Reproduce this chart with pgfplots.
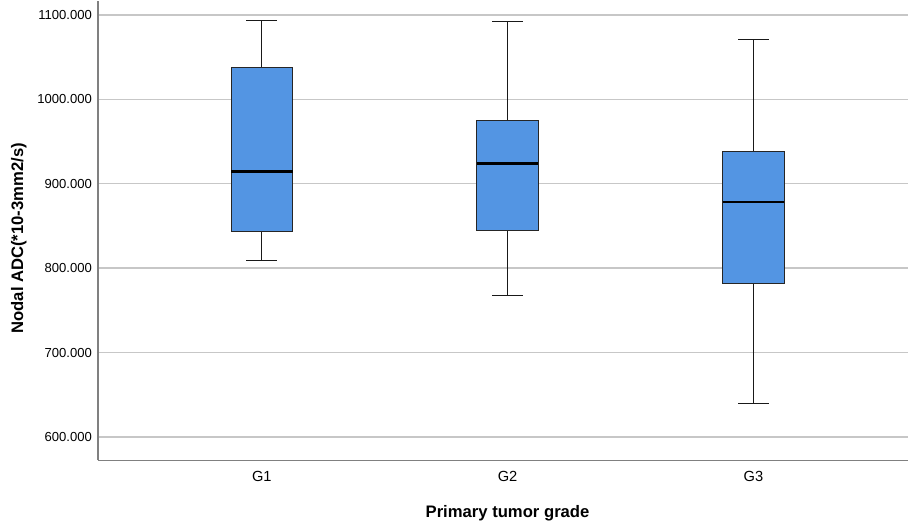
\documentclass[border=0pt]{standalone}
\usepackage{fontspec}
\setmainfont{Liberation Sans}
\usepackage{pgfplots}
\pgfplotsset{compat=1.18}
\definecolor{boxblue}{RGB}{83,149,227}
\begin{document}
\begin{tikzpicture}
\begin{axis}[
  scale only axis, width=608.25pt, height=345pt,
  xmin=0.3333, xmax=3.63, ymin=572.4, ymax=1116.9,
  axis lines*=left,
  axis line style={draw=black!50, line width=0.9pt},
  tick style={draw=none},
  xtick={1,2,3}, xticklabels={G1,G2,G3},
  ytick={600,700,800,900,1000,1100},
  yticklabels={600.000,700.000,800.000,900.000,1000.000,1100.000},
  ymajorgrids, grid style={draw=black!22, line width=1.1pt},
  yticklabel style={font=\fontsize{9.8}{11}\selectfont, xshift=-1pt},
  xticklabel style={font=\fontsize{11}{13}\selectfont, yshift=-5pt},
  xlabel={Primary tumor grade},
  ylabel={Nodal ADC(*10-3mm2/s)},
  xlabel style={font=\bfseries\fontsize{12.5}{14}\selectfont, at={(axis description cs:0.5055,-0.115)}, anchor=center},
  ylabel style={font=\bfseries\fontsize{12.5}{14}\selectfont, at={(axis description cs:-0.0975,0.483)}, anchor=center},
  boxstyle/.style={fill=boxblue, draw=black!85, line width=0.75pt},
  whisk/.style={draw=black!90, line width=1pt},
  med/.style={draw=black, line width=2.2pt},
]
% G1: lower whisker 809.2, Q1 843.6, median 914.6, Q3 1037.6, upper whisker 1093.6
\addplot[whisk] coordinates {(1,1037.6) (1,1093.6)};
\addplot[whisk] coordinates {(0.9375,1093.6) (1.0625,1093.6)};
\addplot[whisk] coordinates {(1,843.6) (1,809.2)};
\addplot[whisk] coordinates {(0.9375,809.2) (1.0625,809.2)};
\addplot[boxstyle] coordinates {(0.875,843.6) (1.125,843.6) (1.125,1037.6) (0.875,1037.6)} --cycle;
\addplot[med] coordinates {(0.875,914.6) (1.125,914.6)};
% G2: 767.5, 844.4, 924.4, 974.6, 1092.5
\addplot[whisk] coordinates {(2,974.6) (2,1092.5)};
\addplot[whisk] coordinates {(1.9375,1092.5) (2.0625,1092.5)};
\addplot[whisk] coordinates {(2,844.4) (2,767.5)};
\addplot[whisk] coordinates {(1.9375,767.5) (2.0625,767.5)};
\addplot[boxstyle] coordinates {(1.875,844.4) (2.125,844.4) (2.125,974.6) (1.875,974.6)} --cycle;
\addplot[med] coordinates {(1.875,924.4) (2.125,924.4)};
% G3: 639.6, 781.2, 878.3, 938.2, 1070.8
\addplot[whisk] coordinates {(3,938.2) (3,1070.8)};
\addplot[whisk] coordinates {(2.9375,1070.8) (3.0625,1070.8)};
\addplot[whisk] coordinates {(3,781.2) (3,639.6)};
\addplot[whisk] coordinates {(2.9375,639.6) (3.0625,639.6)};
\addplot[boxstyle] coordinates {(2.875,781.2) (3.125,781.2) (3.125,938.2) (2.875,938.2)} --cycle;
\addplot[med] coordinates {(2.875,878.3) (3.125,878.3)};
\end{axis}
\path ([xshift=-73.5pt,yshift=-51pt]current axis.south west) rectangle (current axis.north east);
\end{tikzpicture}
\end{document}
